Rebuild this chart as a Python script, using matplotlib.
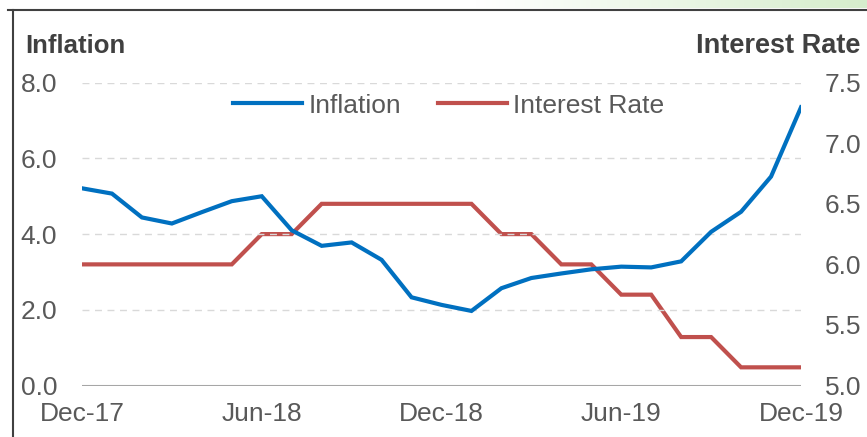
import matplotlib
matplotlib.use("Agg")
import matplotlib.pyplot as plt
import numpy as np
from matplotlib.lines import Line2D

plt.rcParams['font.family'] = ['Liberation Sans', 'DejaVu Sans']

months = ["Dec-17", "Jan-18", "Feb-18", "Mar-18", "Apr-18", "May-18", "Jun-18", "Jul-18",
          "Aug-18", "Sep-18", "Oct-18", "Nov-18", "Dec-18", "Jan-19", "Feb-19", "Mar-19",
          "Apr-19", "May-19", "Jun-19", "Jul-19", "Aug-19", "Sep-19", "Oct-19", "Nov-19", "Dec-19"]
inflation = [5.21, 5.07, 4.44, 4.28, 4.58, 4.87, 5.00, 4.10, 3.69, 3.78, 3.32, 2.33, 2.13,
             1.97, 2.57, 2.84, 2.96, 3.07, 3.14, 3.12, 3.28, 4.06, 4.59, 5.52, 7.35]
interest_rate = [6.00, 6.00, 6.00, 6.00, 6.00, 6.00, 6.25, 6.25, 6.50, 6.50, 6.50, 6.50, 6.50,
                 6.50, 6.25, 6.25, 6.00, 6.00, 5.75, 5.75, 5.40, 5.40, 5.15, 5.15, 5.15]
xtick_labels = ["Dec-17", "Jun-18", "Dec-18", "Jun-19", "Dec-19"]
left_ticks = [0, 2, 4, 6, 8]
right_ticks = [5.0, 5.5, 6.0, 6.5, 7.0, 7.5]

BLUE = "#0070C0"
RED = "#C0504D"
TXT = "#595959"
FS = 19

W, H = 867, 437
fig = plt.figure(figsize=(W / 100, H / 100), dpi=100)

# background decoration: green gradient strip at top right and frame lines
bg = fig.add_axes([0, 0, 1, 1], zorder=-5)
bg.set_xlim(0, W)
bg.set_ylim(H, 0)
bg.axis('off')
grad = np.linspace(0, 1, 400)
grad = np.clip((grad - 0.55) / 0.45, 0, 1)
rgb_start = np.array([1.0, 1.0, 1.0])
rgb_end = np.array([0.84, 0.93, 0.80])
img = rgb_start[None, :] * (1 - grad[:, None]) + rgb_end[None, :] * grad[:, None]
bg.imshow(img[None, :, :], extent=[0, W, 8, 0], aspect='auto', zorder=0)
bg.plot([8, W], [9.5, 9.5], color="#404040", lw=1.5, zorder=2)
bg.plot([13, 13], [9.5, H], color="#404040", lw=1.5, zorder=2)

x = np.arange(len(months))
ax = fig.add_axes([82 / W, 1 - 385.5 / H, (801 - 82) / W, (385.5 - 82.7) / H])
ax2 = ax.twinx()

ax.set_xlim(0, len(months) - 1)
ax.set_ylim(0, 8)
ax2.set_ylim(5.0, 7.5)

for yv in left_ticks[1:]:
    ax.axhline(yv, color="#d9d9d9", lw=1.0, ls=(0, (5, 4)), zorder=0)
ax.axhline(0, color="#a6a6a6", lw=1.5, zorder=1)

ax.plot(x, inflation, color=BLUE, lw=3, solid_joinstyle='miter', zorder=3)
ax2.plot(x, interest_rate, color=RED, lw=3, solid_joinstyle='miter', zorder=3)
ax.set_zorder(ax2.get_zorder() + 1)
ax.patch.set_visible(False)

for a in (ax, ax2):
    for s in a.spines.values():
        s.set_visible(False)

ax.set_yticks(left_ticks)
ax.set_yticklabels([f"{v:.1f}" for v in left_ticks])
ax2.set_yticks(right_ticks)
ax2.set_yticklabels([f"{v:.1f}" for v in right_ticks])
ax.set_xticks([months.index(m) for m in xtick_labels])
ax.set_xticklabels(xtick_labels)

ax.tick_params(axis='y', length=0, pad=18, labelsize=FS, labelcolor=TXT)
ax2.tick_params(axis='y', length=0, pad=17, labelsize=FS, labelcolor=TXT)
ax.tick_params(axis='x', length=0, pad=12, labelsize=FS, labelcolor=TXT)

fig.text(25 / W, 1 - 53 / H, "Inflation", fontsize=18.5, fontweight='bold', color="#404040",
         ha='left', va='baseline')
fig.text(860 / W, 1 - 53 / H, "Interest Rate", fontsize=19.5, fontweight='bold', color="#404040",
         ha='right', va='baseline')

handles = [Line2D([], [], color=BLUE, lw=3), Line2D([], [], color=RED, lw=3)]
leg = ax.legend(handles, ["Inflation", "Interest Rate"], loc='center', bbox_to_anchor=(0.51, 0.924),
                ncol=2, frameon=False, fontsize=FS, handlelength=2.6, handletextpad=0.25,
                columnspacing=1.4, borderpad=0, borderaxespad=0)
for t in leg.get_texts():
    t.set_color(TXT)

fig.savefig("out.png", dpi=100)
